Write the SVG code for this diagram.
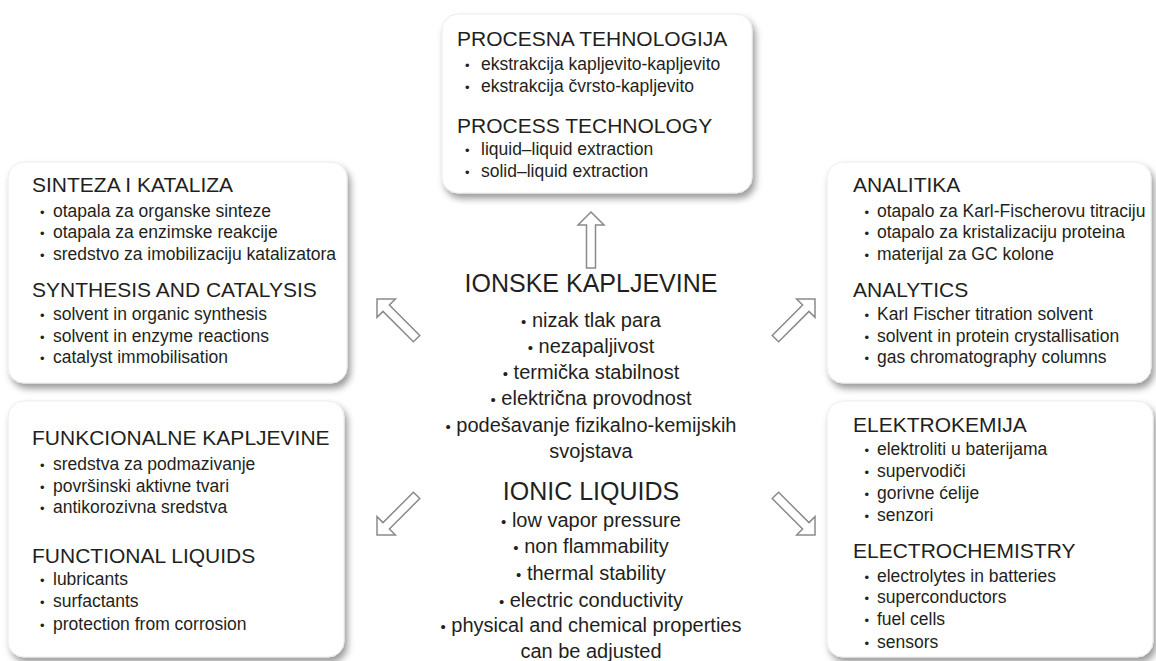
<svg xmlns="http://www.w3.org/2000/svg" width="1156" height="661" viewBox="0 0 1156 661">
<defs>
<filter id="sh" x="-5%" y="-5%" width="115%" height="125%">
<feDropShadow dx="3" dy="5" stdDeviation="3.5" flood-color="#000" flood-opacity="0.4"/>
</filter>
</defs>
<style>
.box{fill:#fff;stroke:#ececec;stroke-width:1;filter:url(#sh)}
text{font-family:"Liberation Sans",Arial,sans-serif;fill:#231f20}
.h{font-size:21px}
.b{font-size:17.5px}
.d{font-size:13px}
.cd{font-size:15px}
.ch{font-size:25px;text-anchor:middle}
.cb{font-size:20px;text-anchor:middle}
.arrow{fill:#fff;stroke:#8a8a8a;stroke-width:1.5;stroke-linejoin:miter}
</style>
<rect width="1156" height="661" fill="#fff"/>

<g id="connectors">
<path class="arrow" d="M0,0 L13,13 L4.5,13 L4.5,56 L-4.5,56 L-4.5,13 L-13,13 Z" transform="translate(591,212)"/>
<path class="arrow" d="M0,0 L13,13 L4.5,13 L4.5,56 L-4.5,56 L-4.5,13 L-13,13 Z" transform="translate(377,299) rotate(-45)"/>
<path class="arrow" d="M0,0 L13,13 L4.5,13 L4.5,56 L-4.5,56 L-4.5,13 L-13,13 Z" transform="translate(815,299) rotate(45)"/>
<path class="arrow" d="M0,0 L13,13 L4.5,13 L4.5,56 L-4.5,56 L-4.5,13 L-13,13 Z" transform="translate(377,535) rotate(-135)"/>
<path class="arrow" d="M0,0 L13,13 L4.5,13 L4.5,56 L-4.5,56 L-4.5,13 L-13,13 Z" transform="translate(815,535) rotate(135)"/>
</g>

<g id="process">
<rect class="box" x="442" y="14" width="310" height="179" rx="16"/>
<text class="h" x="457" y="46">PROCESNA TEHNOLOGIJA</text>
<text class="b" y="70"><tspan class="d" x="465">•</tspan><tspan x="481">ekstrakcija kapljevito-kapljevito</tspan></text>
<text class="b" y="92"><tspan class="d" x="465">•</tspan><tspan x="481">ekstrakcija čvrsto-kapljevito</tspan></text>
<text class="h" x="457" y="133">PROCESS TECHNOLOGY</text>
<text class="b" y="155"><tspan class="d" x="465">•</tspan><tspan x="481">liquid–liquid extraction</tspan></text>
<text class="b" y="177"><tspan class="d" x="465">•</tspan><tspan x="481">solid–liquid extraction</tspan></text>
</g>

<g id="synthesis">
<rect class="box" x="8" y="162" width="339" height="221" rx="16"/>
<text class="h" x="32" y="192">SINTEZA I KATALIZA</text>
<text class="b" y="217"><tspan class="d" x="40">•</tspan><tspan x="53">otapala za organske sinteze</tspan></text>
<text class="b" y="238"><tspan class="d" x="40">•</tspan><tspan x="53">otapala za enzimske reakcije</tspan></text>
<text class="b" y="260"><tspan class="d" x="40">•</tspan><tspan x="53">sredstvo za imobilizaciju katalizatora</tspan></text>
<text class="h" x="32" y="297">SYNTHESIS AND CATALYSIS</text>
<text class="b" y="320"><tspan class="d" x="40">•</tspan><tspan x="53">solvent in organic synthesis</tspan></text>
<text class="b" y="342"><tspan class="d" x="40">•</tspan><tspan x="53">solvent in enzyme reactions</tspan></text>
<text class="b" y="363"><tspan class="d" x="40">•</tspan><tspan x="53">catalyst immobilisation</tspan></text>
</g>

<g id="analytics">
<rect class="box" x="827" y="162" width="324" height="221" rx="16"/>
<text class="h" x="853" y="192">ANALITIKA</text>
<text class="b" y="217"><tspan class="d" x="864.5">•</tspan><tspan x="877">otapalo za Karl-Fischerovu titraciju</tspan></text>
<text class="b" y="238"><tspan class="d" x="864.5">•</tspan><tspan x="877">otapalo za kristalizaciju proteina</tspan></text>
<text class="b" y="260"><tspan class="d" x="864.5">•</tspan><tspan x="877">materijal za GC kolone</tspan></text>
<text class="h" x="853" y="297">ANALYTICS</text>
<text class="b" y="320"><tspan class="d" x="864.5">•</tspan><tspan x="877">Karl Fischer titration solvent</tspan></text>
<text class="b" y="342"><tspan class="d" x="864.5">•</tspan><tspan x="877">solvent in protein crystallisation</tspan></text>
<text class="b" y="363"><tspan class="d" x="864.5">•</tspan><tspan x="877">gas chromatography columns</tspan></text>
</g>

<g id="functional">
<rect class="box" x="8" y="401" width="336" height="256" rx="16"/>
<text class="h" x="32" y="445">FUNKCIONALNE KAPLJEVINE</text>
<text class="b" y="470"><tspan class="d" x="40">•</tspan><tspan x="53">sredstva za podmazivanje</tspan></text>
<text class="b" y="492"><tspan class="d" x="40">•</tspan><tspan x="53">površinski aktivne tvari</tspan></text>
<text class="b" y="513"><tspan class="d" x="40">•</tspan><tspan x="53">antikorozivna sredstva</tspan></text>
<text class="h" x="32" y="563">FUNCTIONAL LIQUIDS</text>
<text class="b" y="585"><tspan class="d" x="40">•</tspan><tspan x="53">lubricants</tspan></text>
<text class="b" y="607"><tspan class="d" x="40">•</tspan><tspan x="53">surfactants</tspan></text>
<text class="b" y="630"><tspan class="d" x="40">•</tspan><tspan x="53">protection from corrosion</tspan></text>
</g>

<g id="electrochemistry">
<rect class="box" x="827" y="401" width="326" height="256" rx="16"/>
<text class="h" x="853" y="432">ELEKTROKEMIJA</text>
<text class="b" y="455"><tspan class="d" x="864.5">•</tspan><tspan x="877">elektroliti u baterijama</tspan></text>
<text class="b" y="477"><tspan class="d" x="864.5">•</tspan><tspan x="877">supervodiči</tspan></text>
<text class="b" y="499"><tspan class="d" x="864.5">•</tspan><tspan x="877">gorivne ćelije</tspan></text>
<text class="b" y="521"><tspan class="d" x="864.5">•</tspan><tspan x="877">senzori</tspan></text>
<text class="h" x="853" y="558">ELECTROCHEMISTRY</text>
<text class="b" y="582"><tspan class="d" x="864.5">•</tspan><tspan x="877">electrolytes in batteries</tspan></text>
<text class="b" y="603"><tspan class="d" x="864.5">•</tspan><tspan x="877">superconductors</tspan></text>
<text class="b" y="625"><tspan class="d" x="864.5">•</tspan><tspan x="877">fuel cells</tspan></text>
<text class="b" y="648"><tspan class="d" x="864.5">•</tspan><tspan x="877">sensors</tspan></text>
</g>

<g id="ionic-liquids">
<text class="ch" x="591" y="292">IONSKE KAPLJEVINE</text>
<text class="cb" x="591" y="327"><tspan class="cd">•</tspan> nizak tlak para</text>
<text class="cb" x="591" y="353"><tspan class="cd">•</tspan> nezapaljivost</text>
<text class="cb" x="591" y="379"><tspan class="cd">•</tspan> termička stabilnost</text>
<text class="cb" x="591" y="405"><tspan class="cd">•</tspan> električna provodnost</text>
<text class="cb" x="591" y="432"><tspan class="cd">•</tspan> podešavanje fizikalno-kemijskih</text>
<text class="cb" x="591" y="458">svojstava</text>
<text class="ch" x="591" y="500">IONIC LIQUIDS</text>
<text class="cb" x="591" y="527"><tspan class="cd">•</tspan> low vapor pressure</text>
<text class="cb" x="591" y="553"><tspan class="cd">•</tspan> non flammability</text>
<text class="cb" x="591" y="580"><tspan class="cd">•</tspan> thermal stability</text>
<text class="cb" x="591" y="607"><tspan class="cd">•</tspan> electric conductivity</text>
<text class="cb" x="591" y="632"><tspan class="cd">•</tspan> physical and chemical properties</text>
<text class="cb" x="591" y="658">can be adjusted</text>
</g>
</svg>
